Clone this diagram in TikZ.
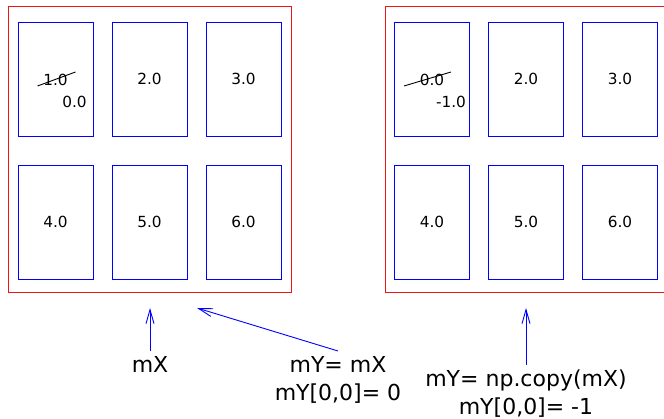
\documentclass[tikz,border=0pt]{standalone}
\usepackage{fontspec}
\setmainfont{DejaVu Sans}
\usetikzlibrary{arrows.meta}
\definecolor{framered}{RGB}{240,20,20}
\definecolor{cellblue}{RGB}{0,0,255}
\begin{document}
\begin{tikzpicture}[x=1pt,y=-1pt,
  arrframe/.style={draw=framered, line width=1pt},
  cell/.style={draw=cellblue, line width=0.9pt, minimum width=75pt, minimum height=114pt,
    inner sep=0pt, font=\fontsize{15.3}{18}\selectfont},
  val/.style={font=\fontsize{15.3}{18}\selectfont, inner sep=0pt},
  lbl/.style={font=\fontsize{22}{28}\selectfont, align=center, anchor=north, inner sep=5pt},
  ptr/.style={draw=cellblue, line width=0.9pt, -{Straight Barb[length=14pt,width=8pt]}},
  strike/.style={draw=black, line width=0.9pt}]
\useasboundingbox (0,0) rectangle (664,419);

% array frames (the second one runs off the right edge)
\draw[arrframe] (8,7) -- (291,7) -- (291,293) -- (8,293) -- cycle;
\draw[arrframe] (670,7) -- (385,7) -- (385,293) -- (670,293);

% mX cells
\node[cell] (a11) at (55.5,79) {};
\node[cell] (a12) at (149.5,79) {2.0};
\node[cell] (a13) at (243.5,79) {3.0};
\node[cell] (a21) at (55.5,222) {4.0};
\node[cell] (a22) at (149.5,222) {5.0};
\node[cell] (a23) at (243.5,222) {6.0};
\node[val] (oldA) at (55.5,80) {1.0};
\node[val] (newA) at (74.5,102) {0.0};
\draw[strike] ([shift={(-18,6)}]oldA.center) -- ([shift={(20,-8)}]oldA.center);

% copy cells
\node[cell] (b11) at (432,79) {};
\node[cell] (b12) at (526,79) {2.0};
\node[cell] (b13) at (620,79) {3.0};
\node[cell] (b21) at (432,222) {4.0};
\node[cell] (b22) at (526,222) {5.0};
\node[cell] (b23) at (620,222) {6.0};
\node[val] (oldB) at (432,80) {0.0};
\node[val] (newB) at (451,102) {-1.0};
\draw[strike] ([shift={(-28,6)}]oldB.center) -- ([shift={(19,-8)}]oldB.center);

% labels and pointers
\coordinate (tipA) at (150,308);
\coordinate (tipB) at (197,308);
\coordinate (tipC) at (526,308);
\node[lbl] (mx) at (150,351) {mX};
\node[lbl] (my1) at (338,351) {mY= mX\\mY[0,0]= 0};
\node[lbl] (my2) at (526,365) {mY= np.copy(mX)\\mY[0,0]= -1};
\draw[ptr] (mx.north) -- (tipA);
\draw[ptr] (my1.north) -- (tipB);
\draw[ptr] (my2.north) -- (tipC);
\end{tikzpicture}
\end{document}
